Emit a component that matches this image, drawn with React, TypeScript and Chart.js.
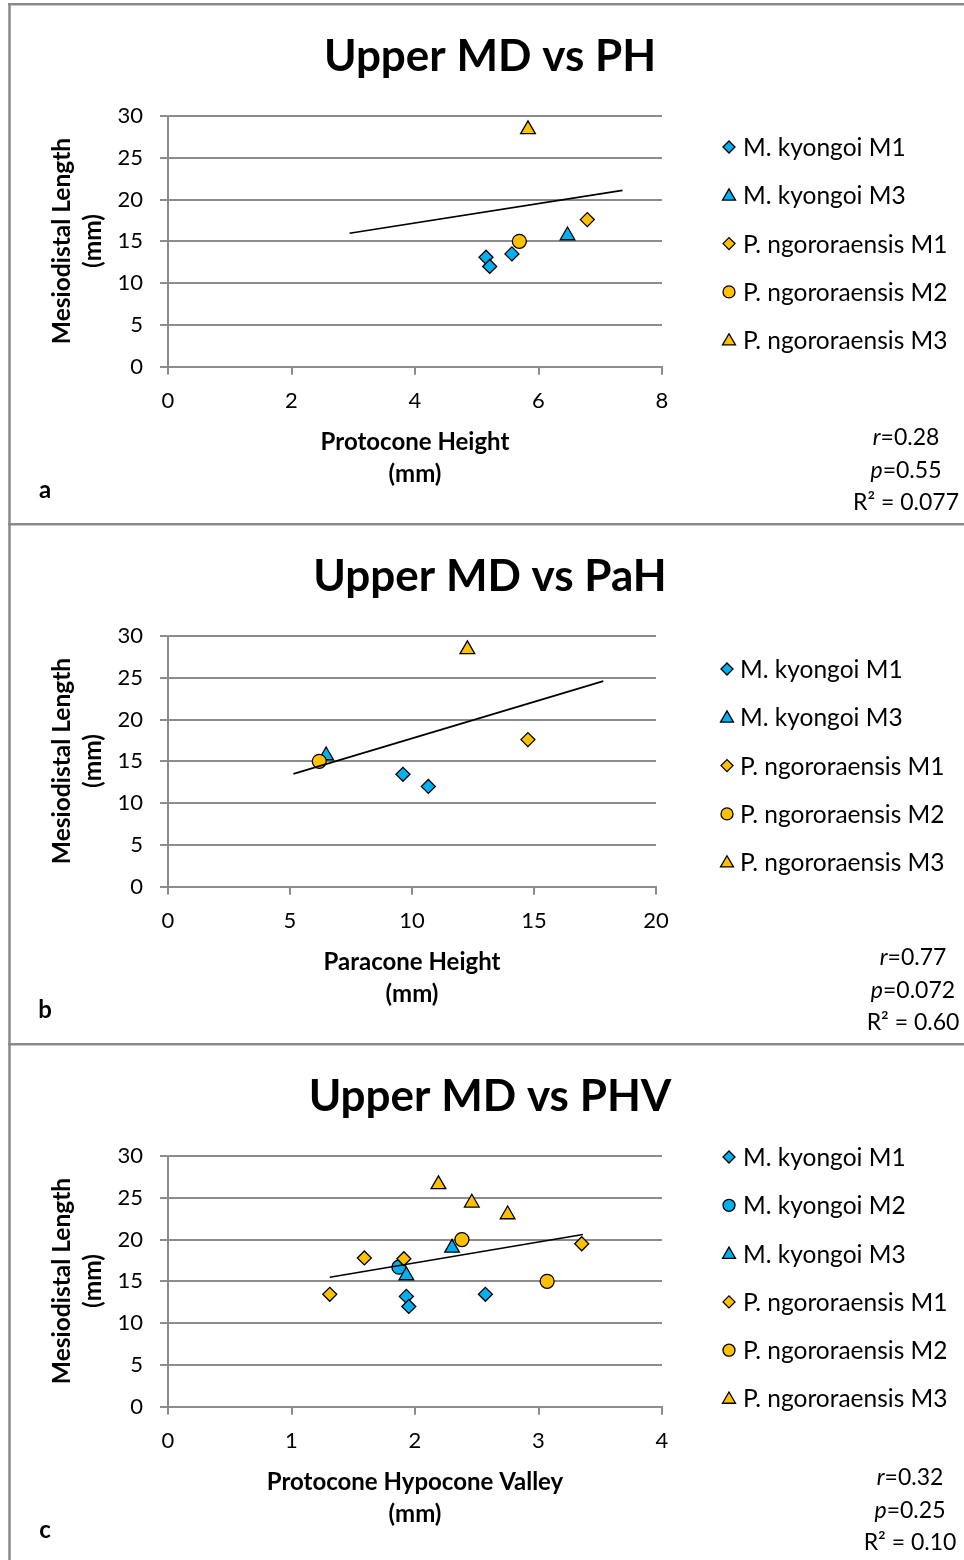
import React, { useEffect, useRef } from 'react';
import { Chart, registerables } from 'chart.js';

Chart.register(...registerables);

const FONT = 'Lato, "Open Sans", sans-serif';
const BLUE = '#00b0f0';
const ORANGE = '#ffc000';
const GRID = '#8c8c8c';
const FRAME = '#8a8a8a';

// ---------- series names ----------
const seriesLabels: Record<string, string> = {
  mk1: 'M. kyongoi M1',
  mk2: 'M. kyongoi M2',
  mk3: 'M. kyongoi M3',
  pn1: 'P. ngororaensis M1',
  pn2: 'P. ngororaensis M2',
  pn3: 'P. ngororaensis M3',
};

// ---------- Panel a: Upper MD vs PH ----------
const aTitle = 'Upper MD vs PH';
const aXTitle = ['Protocone Height', '(mm)'];
const aXMax = 8;
const aXStep = 2;
const aMk1X = [5.15, 5.21, 5.57];
const aMk1Y = [13.1, 12.0, 13.5];
const aMk3X = [6.47];
const aMk3Y = [15.7];
const aPn1X = [6.79];
const aPn1Y = [17.6];
const aPn2X = [5.69];
const aPn2Y = [15.0];
const aPn3X = [5.83];
const aPn3Y = [28.4];
const aTrendX = [2.94, 7.36];
const aTrendY = [15.96, 21.1];
const aStats = ['0.28', '0.55', '0.077'];

// ---------- Panel b: Upper MD vs PaH ----------
const bTitle = 'Upper MD vs PaH';
const bXTitle = ['Paracone Height', '(mm)'];
const bXMax = 20;
const bXStep = 5;
const bMk1X = [9.63, 10.67];
const bMk1Y = [13.45, 12.0];
const bMk3X = [6.48];
const bMk3Y = [15.7];
const bPn1X = [14.75];
const bPn1Y = [17.6];
const bPn2X = [6.2];
const bPn2Y = [15.0];
const bPn3X = [12.27];
const bPn3Y = [28.4];
const bTrendX = [5.14, 17.84];
const bTrendY = [13.5, 24.6];
const bStats = ['0.77', '0.072', '0.60'];

// ---------- Panel c: Upper MD vs PHV ----------
const cTitle = 'Upper MD vs PHV';
const cXTitle = ['Protocone Hypocone Valley', '(mm)'];
const cXMax = 4;
const cXStep = 1;
const cMk1X = [1.93, 1.95, 2.57];
const cMk1Y = [13.2, 12.0, 13.45];
const cMk2X = [1.87];
const cMk2Y = [16.7];
const cMk3X = [2.3, 1.93];
const cMk3Y = [19.0, 15.7];
const cPn1X = [1.59, 1.91, 1.31, 3.35];
const cPn1Y = [17.8, 17.7, 13.45, 19.5];
const cPn2X = [2.38, 3.07];
const cPn2Y = [20.0, 15.0];
const cPn3X = [2.19, 2.46, 2.75];
const cPn3Y = [26.6, 24.4, 23.0];
const cTrendX = [1.31, 3.36];
const cTrendY = [15.5, 20.6];
const cStats = ['0.32', '0.25', '0.10'];

// ---------- styles ----------
const markerStyle: Record<string, { shape: string; color: string; r: number; lr: number }> = {
  mk1: { shape: 'rectRot', color: BLUE, r: 7, lr: 6 },
  mk2: { shape: 'circle', color: BLUE, r: 7, lr: 6 },
  mk3: { shape: 'triangle', color: BLUE, r: 8.5, lr: 7.5 },
  pn1: { shape: 'rectRot', color: ORANGE, r: 7, lr: 6 },
  pn2: { shape: 'circle', color: ORANGE, r: 7, lr: 6 },
  pn3: { shape: 'triangle', color: ORANGE, r: 8.5, lr: 7.5 },
};

type Series = { key: string; xs: number[]; ys: number[] };
type PanelCfg = {
  letter: string;
  title: string;
  xTitle: string[];
  xMax: number;
  xStep: number;
  series: Series[];
  trendX: number[];
  trendY: number[];
  stats: string[];
  plotRight: number;
  xTitleX: number;
  legendMarkerX: number;
  legendTextX: number;
  legendTop: number;
  statsX: number;
};

const panels: PanelCfg[] = [
  {
    letter: 'a', title: aTitle, xTitle: aXTitle, xMax: aXMax, xStep: aXStep,
    series: [
      { key: 'mk1', xs: aMk1X, ys: aMk1Y },
      { key: 'mk3', xs: aMk3X, ys: aMk3Y },
      { key: 'pn1', xs: aPn1X, ys: aPn1Y },
      { key: 'pn2', xs: aPn2X, ys: aPn2Y },
      { key: 'pn3', xs: aPn3X, ys: aPn3Y },
    ],
    trendX: aTrendX, trendY: aTrendY, stats: aStats,
    plotRight: 662, xTitleX: 415, legendMarkerX: 729, legendTextX: 743, legendTop: 144, statsX: 906,
  },
  {
    letter: 'b', title: bTitle, xTitle: bXTitle, xMax: bXMax, xStep: bXStep,
    series: [
      { key: 'mk1', xs: bMk1X, ys: bMk1Y },
      { key: 'mk3', xs: bMk3X, ys: bMk3Y },
      { key: 'pn1', xs: bPn1X, ys: bPn1Y },
      { key: 'pn2', xs: bPn2X, ys: bPn2Y },
      { key: 'pn3', xs: bPn3X, ys: bPn3Y },
    ],
    trendX: bTrendX, trendY: bTrendY, stats: bStats,
    plotRight: 656, xTitleX: 412, legendMarkerX: 727, legendTextX: 740, legendTop: 146, statsX: 913,
  },
  {
    letter: 'c', title: cTitle, xTitle: cXTitle, xMax: cXMax, xStep: cXStep,
    series: [
      { key: 'mk1', xs: cMk1X, ys: cMk1Y },
      { key: 'mk2', xs: cMk2X, ys: cMk2Y },
      { key: 'mk3', xs: cMk3X, ys: cMk3Y },
      { key: 'pn1', xs: cPn1X, ys: cPn1Y },
      { key: 'pn2', xs: cPn2X, ys: cPn2Y },
      { key: 'pn3', xs: cPn3X, ys: cPn3Y },
    ],
    trendX: cTrendX, trendY: cTrendY, stats: cStats,
    plotRight: 662, xTitleX: 415, legendMarkerX: 729, legendTextX: 743, legendTop: 114, statsX: 910,
  },
];

const PANEL_H = 520;
const PLOT_TOP = 113;
const PLOT_BOTTOM = 363.7;
const X_AXIS_H = 64;
const LEGEND_GAP = 48.3;

function drawMarker(ctx: CanvasRenderingContext2D, shape: string, x: number, y: number, r: number, color: string) {
  ctx.beginPath();
  if (shape === 'circle') {
    ctx.arc(x, y, r, 0, Math.PI * 2);
  } else if (shape === 'rectRot') {
    ctx.moveTo(x - r, y);
    ctx.lineTo(x, y - r);
    ctx.lineTo(x + r, y);
    ctx.lineTo(x, y + r);
    ctx.closePath();
  } else {
    ctx.moveTo(x, y - r);
    ctx.lineTo(x + r * Math.sin((2 * Math.PI) / 3), y - r * Math.cos((2 * Math.PI) / 3));
    ctx.lineTo(x + r * Math.sin((4 * Math.PI) / 3), y - r * Math.cos((4 * Math.PI) / 3));
    ctx.closePath();
  }
  ctx.fillStyle = color;
  ctx.fill();
  ctx.lineWidth = 1.3;
  ctx.strokeStyle = '#000';
  ctx.stroke();
}

function drawParts(ctx: CanvasRenderingContext2D, parts: { t: string; it?: boolean }[], cx: number, y: number, size: number) {
  let total = 0;
  const widths = parts.map((p) => {
    ctx.font = `${p.it ? 'italic ' : ''}${size}px ${FONT}`;
    const w = ctx.measureText(p.t).width;
    total += w;
    return w;
  });
  let x = cx - total / 2;
  ctx.textAlign = 'left';
  parts.forEach((p, i) => {
    ctx.font = `${p.it ? 'italic ' : ''}${size}px ${FONT}`;
    ctx.fillText(p.t, x, y);
    x += widths[i];
  });
}

function makeOverlay(cfg: PanelCfg) {
  return {
    id: 'overlay_' + cfg.letter,
    afterDraw(chart: any) {
      const ctx: CanvasRenderingContext2D = chart.ctx;
      ctx.save();
      // frame
      ctx.strokeStyle = FRAME;
      ctx.lineWidth = 2.5;
      ctx.beginPath();
      ctx.moveTo(8, 1.25);
      ctx.lineTo(964, 1.25);
      ctx.moveTo(9.5, 0);
      ctx.lineTo(9.5, PANEL_H);
      ctx.stroke();

      ctx.fillStyle = '#000';
      ctx.textBaseline = 'middle';

      // title
      ctx.textAlign = 'center';
      ctx.font = `bold 44px ${FONT}`;
      ctx.fillText(cfg.title, 490, 54);

      // y axis title
      ctx.font = `bold 24.5px ${FONT}`;
      ctx.save();
      ctx.translate(62, 238);
      ctx.rotate(-Math.PI / 2);
      ctx.fillText('Mesiodistal Length', 0, 0);
      ctx.restore();
      ctx.save();
      ctx.translate(93, 238);
      ctx.rotate(-Math.PI / 2);
      ctx.fillText('(mm)', 0, 0);
      ctx.restore();

      // x axis title
      ctx.font = `bold 24px ${FONT}`;
      ctx.fillText(cfg.xTitle[0], cfg.xTitleX, 439);
      ctx.fillText(cfg.xTitle[1], cfg.xTitleX, 471);

      // legend
      cfg.series.forEach((s, i) => {
        const st = markerStyle[s.key];
        const y = cfg.legendTop + i * LEGEND_GAP;
        drawMarker(ctx, st.shape, cfg.legendMarkerX, y + (st.shape === 'triangle' ? 1 : 0), st.lr, st.color);
        ctx.fillStyle = '#000';
        ctx.font = `24.5px ${FONT}`;
        ctx.textAlign = 'left';
        ctx.fillText(seriesLabels[s.key], cfg.legendTextX, y + 1);
      });

      // stats
      ctx.fillStyle = '#000';
      drawParts(ctx, [{ t: 'r', it: true }, { t: '=' + cfg.stats[0] }], cfg.statsX, 435, 23);
      drawParts(ctx, [{ t: 'p', it: true }, { t: '=' + cfg.stats[1] }], cfg.statsX, 468, 23);
      drawParts(ctx, [{ t: 'R\u00B2 = ' + cfg.stats[2] }], cfg.statsX, 500, 23);

      // panel letter
      ctx.textAlign = 'center';
      ctx.font = `bold 24px ${FONT}`;
      ctx.fillText(cfg.letter, 45, 487);
      ctx.restore();
    },
  };
}

function Panel({ cfg, top }: { cfg: PanelCfg; top: number }) {
  const ref = useRef<HTMLCanvasElement>(null);
  useEffect(() => {
    const n = cfg.series.length;
    const datasets: any[] = cfg.series.map((s, i) => {
      const st = markerStyle[s.key];
      return {
        label: seriesLabels[s.key],
        data: s.xs.map((x, j) => ({ x, y: s.ys[j] })),
        pointStyle: st.shape,
        pointRadius: st.r,
        pointHoverRadius: st.r,
        pointBackgroundColor: st.color,
        pointBorderColor: '#000',
        pointBorderWidth: 1.3,
        showLine: false,
        order: n - i + 1,
      };
    });
    datasets.push({
      label: 'trend',
      data: cfg.trendX.map((x, j) => ({ x, y: cfg.trendY[j] })),
      showLine: true,
      borderColor: '#000',
      borderWidth: 1.6,
      pointRadius: 0,
      fill: false,
      order: 0,
    });
    const tickFont = { family: FONT, size: 22 };
    const chart = new Chart(ref.current as HTMLCanvasElement, {
      type: 'scatter',
      data: { datasets },
      options: {
        animation: false,
        responsive: false,
        maintainAspectRatio: false,
        devicePixelRatio: 1,
        events: [],
        layout: {
          padding: {
            left: 0,
            right: 964 - cfg.plotRight,
            top: PLOT_TOP,
            bottom: PANEL_H - PLOT_BOTTOM - X_AXIS_H,
          },
        },
        plugins: {
          legend: { display: false },
          title: { display: false },
          tooltip: { enabled: false },
        },
        scales: {
          x: {
            type: 'linear',
            min: 0,
            max: cfg.xMax,
            ticks: { stepSize: cfg.xStep, font: tickFont, color: '#000', padding: 13 },
            grid: { drawOnChartArea: false, drawTicks: true, tickLength: 8, color: GRID, lineWidth: 2 },
            border: { display: true, color: GRID, width: 2 },
            afterFit: (s: any) => {
              s.height = X_AXIS_H;
            },
          },
          y: {
            type: 'linear',
            min: 0,
            max: 30,
            ticks: { stepSize: 5, font: tickFont, color: '#000', padding: 17 },
            grid: { drawOnChartArea: true, drawTicks: true, tickLength: 8, color: GRID, lineWidth: 2 },
            border: { display: true, color: GRID, width: 2 },
            afterFit: (s: any) => {
              s.width = 168;
            },
          },
        },
      } as any,
      plugins: [makeOverlay(cfg)],
    });
    return () => chart.destroy();
  }, [cfg]);
  return (
    <canvas
      ref={ref}
      width={964}
      height={PANEL_H}
      style={{ position: 'absolute', left: 0, top, width: 964, height: PANEL_H, display: 'block' }}
    />
  );
}

export default function App() {
  useEffect(() => {
    document.documentElement.style.overflow = 'hidden';
    document.body.style.overflow = 'hidden';
  }, []);
  return (
    <div style={{ position: 'absolute', left: 0, top: 0, width: 964, height: 1560, overflow: 'hidden', background: '#fff' }}>
      {panels.map((p, i) => (
        <Panel key={p.letter} cfg={p} top={3 + i * PANEL_H} />
      ))}
    </div>
  );
}
